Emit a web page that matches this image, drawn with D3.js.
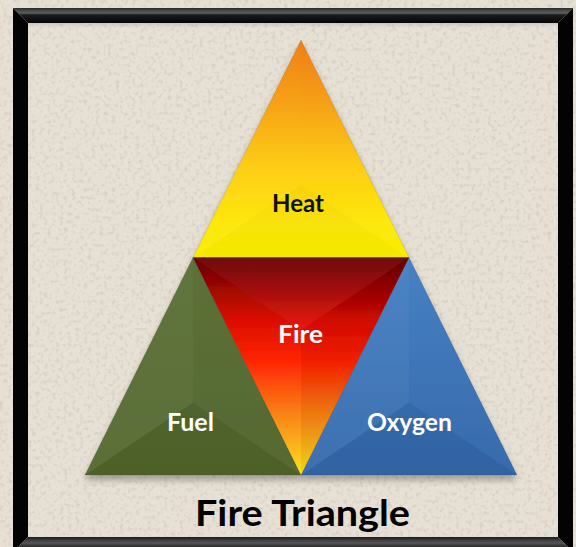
<!DOCTYPE html>
<html><head><meta charset="utf-8">
<script src="https://cdn.jsdelivr.net/npm/d3@7"></script>
<style>html,body{margin:0;padding:0;background:#e6dfd4;}svg{display:block;}</style>
</head><body>
<script>
// ---- data ----
const regions = ["Heat", "Fuel", "Oxygen", "Fire"];
// triangle vertices in unit lattice coordinates of the big triangle
const vertices = [
  [[0.5, 0], [0.25, 0.5], [0.75, 0.5]],
  [[0.25, 0.5], [0, 1], [0.5, 1]],
  [[0.75, 0.5], [0.5, 1], [1, 1]],
  [[0.25, 0.5], [0.75, 0.5], [0.5, 1]]
];
const labelAnchors = [[0.493, 0.372], [0.244, 0.876], [0.751, 0.876], [0.499, 0.674]];
const labelColors = ["#111", "#ffffff", "#ffffff", "#ffffff"];
const labelWidths = [52, 47, 85, 45];
const title = "Fire Triangle";

const W = 576, H = 547;
const svg = d3.select("body").append("svg").attr("width", W).attr("height", H);
const defs = svg.append("defs");

// scales mapping unit lattice to pixels
const x = d3.scaleLinear().domain([0, 1]).range([85, 517]);
const y = d3.scaleLinear().domain([0, 1]).range([40, 475]);

// background texture
const noise = defs.append("filter").attr("id", "noise").attr("x", 0).attr("y", 0).attr("width", "100%").attr("height", "100%");
noise.append("feTurbulence").attr("type", "fractalNoise").attr("baseFrequency", 0.25).attr("numOctaves", 2).attr("seed", 7).attr("result", "t");
noise.append("feColorMatrix").attr("in", "t").attr("type", "matrix")
  .attr("values", "0 0 0 0 0.50  0 0 0 0 0.45  0 0 0 0 0.38  0 0 0 -3 1.55").attr("result", "c");
noise.append("feComposite").attr("in", "c").attr("in2", "SourceGraphic").attr("operator", "in");

svg.append("rect").attr("width", W).attr("height", H).attr("fill", "#e7e0d5");
svg.append("rect").attr("width", W).attr("height", H).attr("fill", "#e7e0d5").attr("filter", "url(#noise)").attr("opacity", 0.35);

// frame
const fo = {l: 13, t: 8, r: 573, b: 552}, fi = {l: 28, t: 23, r: 558, b: 537};
const gTop = defs.append("linearGradient").attr("id", "gTop").attr("x1", 0).attr("y1", 0).attr("x2", 0).attr("y2", 1);
[[0, "#2a2a2a"], [0.2, "#4d4d4d"], [0.35, "#5e5e5e"], [0.45, "#1c1c1c"], [1, "#050505"]].forEach(s => gTop.append("stop").attr("offset", s[0]).attr("stop-color", s[1]));
const gBot = defs.append("linearGradient").attr("id", "gBot").attr("x1", 0).attr("y1", 0).attr("x2", 0).attr("y2", 1);
[[0, "#1a1a1a"], [0.25, "#444"], [0.4, "#555"], [0.6, "#333"], [1, "#111"]].forEach(s => gBot.append("stop").attr("offset", s[0]).attr("stop-color", s[1]));
const frame = svg.append("g");
frame.append("path").attr("d", `M${fo.l},${fo.t}L${fo.r},${fo.t}L${fi.r},${fi.t}L${fi.l},${fi.t}Z`).attr("fill", "url(#gTop)");
frame.append("path").attr("d", `M${fo.l},${fo.t}L${fi.l},${fi.t}L${fi.l},${fi.b}L${fo.l},${fo.b}Z`).attr("fill", "#030303");
frame.append("path").attr("d", `M${fo.r},${fo.t}L${fo.r},${fo.b}L${fi.r},${fi.b}L${fi.r},${fi.t}Z`).attr("fill", "#030303");
frame.append("path").attr("d", `M${fo.l},${fo.b}L${fi.l},${fi.b}L${fi.r},${fi.b}L${fo.r},${fo.b}Z`).attr("fill", "url(#gBot)");
const inner = defs.append("linearGradient").attr("id", "innerS").attr("x1", 0).attr("y1", 0).attr("x2", 0).attr("y2", 1);
inner.append("stop").attr("offset", 0).attr("stop-color", "#000").attr("stop-opacity", 0.10);
inner.append("stop").attr("offset", 1).attr("stop-color", "#000").attr("stop-opacity", 0);
svg.append("rect").attr("x", fi.l).attr("y", fi.t).attr("width", fi.r - fi.l).attr("height", 5).attr("fill", "url(#innerS)");

// gradients for triangles
function vgrad(id, stops, y1, y2) {
  const g = defs.append("linearGradient").attr("id", id).attr("gradientUnits", "userSpaceOnUse")
    .attr("x1", 0).attr("x2", 0).attr("y1", y1).attr("y2", y2);
  stops.forEach(s => g.append("stop").attr("offset", s[0]).attr("stop-color", s[1]));
}
vgrad("gHeat", [[0, "#ee7d12"], [0.3, "#f6a214"], [0.6, "#fdcf12"], [0.85, "#fde80a"], [1, "#f8ee00"]], y(0), y(0.5));
vgrad("gFuel", [[0, "#596e33"], [1, "#53672e"]], y(0.5), y(1));
vgrad("gOxy", [[0, "#437fc3"], [1, "#3368ab"]], y(0.5), y(1));
vgrad("gFire", [[0, "#640000"], [0.12, "#930202"], [0.3, "#de0a02"], [0.48, "#ff2200"], [0.7, "#f97a10"], [0.87, "#fbb41a"], [1, "#ffe414"]], y(0.5), y(1));
const fills = ["url(#gHeat)", "url(#gFuel)", "url(#gOxy)", "url(#gFire)"];

const shadow = defs.append("filter").attr("id", "shadow").attr("x", "-10%").attr("y", "-10%").attr("width", "120%").attr("height", "125%");
shadow.append("feDropShadow").attr("dx", 0).attr("dy", 5).attr("stdDeviation", 3.5).attr("flood-color", "#000").attr("flood-opacity", 0.3);

const line = d3.line().x(d => x(d[0])).y(d => y(d[1]));
const tri = svg.append("g").attr("filter", "url(#shadow)");

regions.forEach((name, i) => {
  const v = vertices[i];
  const g = tri.append("g");
  g.append("path").attr("d", line(v) + "Z").attr("fill", fills[i]);
  const cx = d3.mean(v, d => d[0]), cy = d3.mean(v, d => d[1]);
  const c = [cx, cy];
  const facetOps = [0.05, -0.05, 0.02];
  for (let k = 0; k < 3; k++) {
    const a = v[k], b = v[(k + 1) % 3];
    const op = facetOps[k];
    g.append("path").attr("d", line([a, b, c]) + "Z")
      .attr("fill", op > 0 ? "#fff" : "#000").attr("fill-opacity", Math.abs(op) * (i === 0 ? 0.4 : 1));
  }
  g.append("path").attr("d", line(v) + "Z").attr("fill", "none")
    .attr("stroke", "#000").attr("stroke-opacity", 0.12).attr("stroke-width", 0.8);
});

// labels
const font = "Lato, 'Open Sans', sans-serif";
regions.forEach((name, i) => {
  svg.append("text")
    .attr("x", x(labelAnchors[i][0])).attr("y", y(labelAnchors[i][1]))
    .attr("text-anchor", "middle").attr("dominant-baseline", "central")
    .attr("font-family", font).attr("font-weight", 700).attr("font-size", 25)
    .attr("fill", labelColors[i])
    .attr("textLength", labelWidths[i]).attr("lengthAdjust", "spacingAndGlyphs")
    .text(name);
});

svg.append("text").attr("x", 302.5).attr("y", 526)
  .attr("text-anchor", "middle").attr("font-family", font).attr("font-weight", 700)
  .attr("font-size", 36).attr("fill", "#000").attr("textLength", 215).attr("lengthAdjust", "spacingAndGlyphs")
  .text(title);
</script>
</body></html>
